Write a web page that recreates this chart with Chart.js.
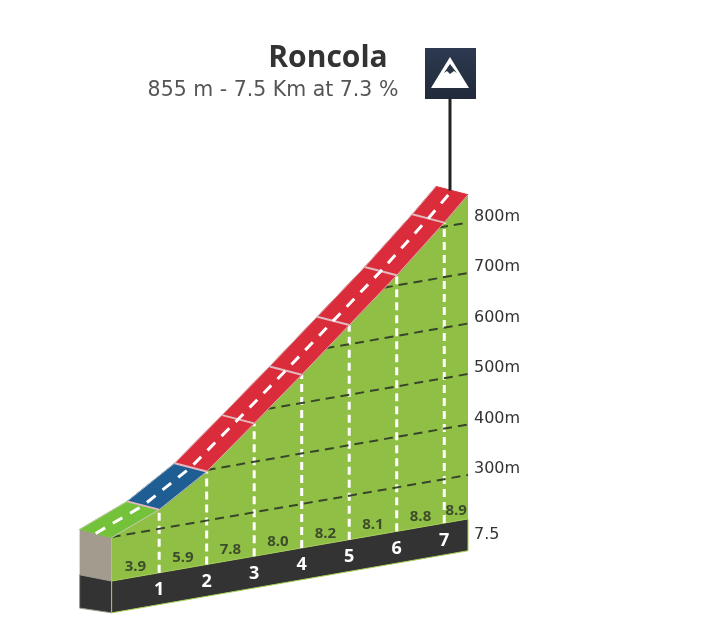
<!DOCTYPE html>
<html><head><meta charset="utf-8">
<style>html,body{margin:0;padding:0;background:#fff}canvas{display:block}</style>
<script src="https://cdn.jsdelivr.net/npm/chart.js@4"></script>
</head><body><canvas id="c" width="720" height="627"></canvas>
<script>
const TITLE = 'Roncola';
const SUBTITLE = '855 m - 7.5 Km at 7.3 %';
const KM_POINTS = [0, 1, 2, 3, 4, 5, 6, 7, 7.5];
const ALTITUDES = [299, 338, 397, 476, 556, 638, 720, 808, 855];
const GRADIENTS = [3.9, 5.9, 7.8, 8.0, 8.2, 8.1, 8.8, 8.9];
const KM_TICKS = [1, 2, 3, 4, 5, 6, 7];
const ALT_TICKS = [300, 400, 500, 600, 700, 800];
const ALT_LINE_STARTS = [0, 2, 3.26, 4.5, 5.73, 6.89];
const GRADE_COLORS = ['#74c23a', '#1f5e93', '#da2c3a', '#da2c3a', '#da2c3a', '#da2c3a', '#da2c3a', '#da2c3a'];
const TOTAL_KM = '7.5';
const BASE_ALT = 213, FLOOR_ALT = 150;

const SKEW = 16.4, DEPTH_X = 0.674, DEPTH_Y = 16.4;
const project = (km, alt, depth = 0) => ({x: km - DEPTH_X * depth, y: alt + SKEW * km + DEPTH_Y * depth});

const layers = [];
const poly = (pts, fill, stroke, sw) => layers.push({type: 'line', data: pts, polyFill: fill, polyStroke: stroke, polyWidth: sw, showLine: false, pointRadius: 0, clip: false});
const line = (pts, color, width, dash) => layers.push({type: 'line', data: pts, borderColor: color, borderWidth: width, borderDash: dash || [], pointRadius: 0, clip: false, tension: 0, borderCapStyle: 'butt'});

// left wall
poly([project(0, ALTITUDES[0], 1), project(0, ALTITUDES[0]), project(0, BASE_ALT), project(0, BASE_ALT - 4, 1)], '#a49b8f');
poly([project(0, BASE_ALT - 4, 1), project(0, BASE_ALT), project(0, FLOOR_ALT), project(0, FLOOR_ALT - 7, 1)], '#333333', '#9a9a90', 1);
// green front face
poly([...KM_POINTS.map((k, i) => project(k, ALTITUDES[i])), project(7.5, BASE_ALT), project(0, BASE_ALT)], '#90bf45');
// black strip
poly([project(0, BASE_ALT), project(7.5, BASE_ALT), project(7.5, FLOOR_ALT), project(0, FLOOR_ALT)], '#333333', '#a5cf55', 1);
// km dashed verticals
KM_TICKS.forEach(k => line([project(k, BASE_ALT), project(k, ALTITUDES[KM_POINTS.indexOf(k)])], '#ffffff', 3, [8, 5]));
// altitude dashed lines
ALT_TICKS.forEach((a, i) => line([project(ALT_LINE_STARTS[i], a), project(7.5, a)], '#37462a', 2, [9, 6]));
// road segments
GRADE_COLORS.forEach((col, i) => {
  const a = KM_POINTS[i], b = KM_POINTS[i + 1], aa = ALTITUDES[i], ab = ALTITUDES[i + 1];
  poly([project(a, aa), project(b, ab), project(b, ab, 1), project(a, aa, 1)], col, col, 1);
});
// road edges + km separators
line(KM_POINTS.map((k, i) => project(k, ALTITUDES[i])), 'rgba(215,205,205,0.8)', 1);
line(KM_POINTS.map((k, i) => project(k, ALTITUDES[i], 1)), 'rgba(215,205,205,0.8)', 1);
KM_TICKS.forEach(k => { const a = ALTITUDES[KM_POINTS.indexOf(k)]; line([project(k, a), project(k, a, 1)], '#e3b9bf', 2); });
// centre line
line(KM_POINTS.map((k, i) => project(k, ALTITUDES[i], 0.5)), '#ffffff', 3, [11, 9]);

layers.forEach((d, i) => d.order = layers.length - i);

const axisTickValues = [(BASE_ALT + FLOOR_ALT) / 2 + SKEW * 7.5, ...ALT_TICKS.map(a => a + SKEW * 7.5 + 12)];
const axisTickLabels = [TOTAL_KM, ...ALT_TICKS.map(a => a + 'm')];

const polygonPlugin = {
  id: 'polygons',
  beforeDatasetDraw(chart, args) {
    const ds = chart.data.datasets[args.index];
    if (!ds.polyFill) return;
    const c = chart.ctx, pts = args.meta.data;
    c.save(); c.beginPath();
    pts.forEach((p, i) => i ? c.lineTo(p.x, p.y) : c.moveTo(p.x, p.y));
    c.closePath(); c.fillStyle = ds.polyFill; c.fill();
    if (ds.polyStroke) { c.strokeStyle = ds.polyStroke; c.lineWidth = ds.polyWidth || 1; c.stroke(); }
    c.restore();
  }
};
const textPlugin = {
  id: 'texts',
  afterDraw(chart) {
    const c = chart.ctx, X = chart.scales.x, Y = chart.scales.y;
    const px = p => ({x: X.getPixelForValue(p.x), y: Y.getPixelForValue(p.y)});
    const top = px(project(7.5, ALTITUDES[8], 0.5));
    const poleX = top.x - 2;
    c.save();
    // KOM pole and icon
    c.strokeStyle = '#222'; c.lineWidth = 3;
    c.beginPath(); c.moveTo(poleX, 99); c.lineTo(poleX, top.y); c.stroke();
    const g = c.createLinearGradient(0, 48, 0, 99);
    g.addColorStop(0, '#2c3950'); g.addColorStop(1, '#222a3a');
    c.fillStyle = g; c.fillRect(poleX - 25, 48, 51, 51);
    c.fillStyle = '#fff'; c.beginPath();
    c.moveTo(poleX, 57); c.lineTo(poleX + 19, 88); c.lineTo(poleX - 19, 88); c.closePath(); c.fill();
    c.fillStyle = '#2a3548'; c.beginPath();
    c.moveTo(poleX, 64); c.lineTo(poleX + 7, 73); c.lineTo(poleX + 4, 71); c.lineTo(poleX, 74);
    c.lineTo(poleX - 3, 71); c.lineTo(poleX - 6, 73); c.closePath(); c.fill();
    // headings
    c.textAlign = 'center'; c.textBaseline = 'middle';
    c.fillStyle = '#333'; c.font = 'bold 30px "Open Sans"';
    c.fillText(TITLE, 328, 58);
    c.fillStyle = '#555'; c.font = '20.5px "DejaVu Sans"';
    c.fillText(SUBTITLE, 273, 91);
    // gradient labels
    c.fillStyle = '#3d4d2c'; c.font = 'bold 15px "Open Sans"';
    GRADIENTS.forEach((g, i) => {
      const mid = (KM_POINTS[i] + KM_POINTS[i + 1]) / 2;
      const p = px(project(mid, BASE_ALT));
      c.fillText(g.toFixed(1), p.x, p.y - 10.5);
    });
    // km labels
    c.fillStyle = '#fff'; c.font = 'bold 18px "Open Sans"';
    KM_TICKS.forEach(k => {
      const p = px(project(k, (BASE_ALT + FLOOR_ALT) / 2));
      c.fillText(String(k), p.x, p.y + 1.5);
    });
    c.restore();
  }
};

new Chart(document.getElementById('c'), {
  type: 'line',
  data: {datasets: layers},
  plugins: [polygonPlugin, textPlugin],
  options: {
    responsive: false, animation: false, devicePixelRatio: 1,
    layout: {padding: 0},
    plugins: {legend: {display: false}, tooltip: {enabled: false}, title: {display: false}},
    scales: {
      x: {type: 'linear', display: false, min: -2.35, max: 7.5},
      y: {
        type: 'linear', position: 'right', min: 122, max: 1363.6,
        grid: {display: false, drawTicks: false}, border: {display: false},
        afterFit(s) { s.width = 252; s.paddingTop = 0; s.paddingBottom = 0; },
        afterBuildTicks(s) { s.ticks = axisTickValues.map(v => ({value: v})); },
        ticks: {
          autoSkip: false, maxRotation: 0, padding: 6, color: '#333333', font: {family: '"DejaVu Sans"', size: 16},
          callback: (v, i) => axisTickLabels[i]
        }
      }
    }
  }
});
</script></body></html>
